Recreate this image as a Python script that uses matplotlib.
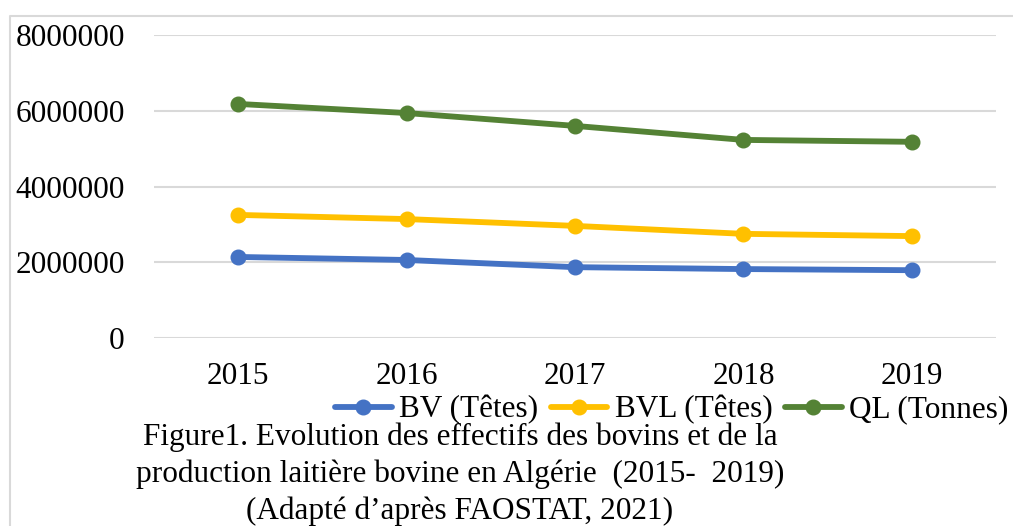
import matplotlib
matplotlib.use("Agg")
import matplotlib.pyplot as plt
from matplotlib.lines import Line2D

plt.rcParams['font.family'] = ['Liberation Serif', 'DejaVu Serif']

years = ['2015', '2016', '2017', '2018', '2019']
bv = [2140000, 2060000, 1870000, 1820000, 1790000]
bvl = [3250000, 3140000, 2960000, 2750000, 2690000]
ql = [6180000, 5940000, 5600000, 5230000, 5180000]
series_labels = ['BV (Têtes)', 'BVL (Têtes)', 'QL (Tonnes)']
y_ticks = [0, 2000000, 4000000, 6000000, 8000000]
caption = ["Figure1. Evolution des effectifs des bovins et de la",
           "production laitière bovine en Algérie  (2015-  2019)",
           "(Adapté d’après FAOSTAT, 2021)"]

colors = ['#4472C4', '#FFC000', '#548235']
fs = 22.5

fig = plt.figure(figsize=(10.13, 5.26), dpi=100)
ax = fig.add_axes([154 / 1013, 1 - 338 / 526, 842 / 1013, 303 / 526])

x = range(len(years))
for vals, col, lab in zip([bv, bvl, ql], colors, series_labels):
    ax.plot(x, vals, color=col, lw=4.2, marker='o', ms=10.5, label=lab,
            solid_capstyle='round')

ax.set_xlim(-0.5, len(years) - 0.5)
ax.set_ylim(0, 8000000)
ax.set_yticks(y_ticks)
ax.set_yticklabels([str(v) for v in y_ticks], fontsize=fs)
ax.set_xticks(list(x))
ax.set_xticklabels(years, fontsize=fs)
ax.tick_params(axis='y', length=0, pad=21)
ax.tick_params(axis='x', length=0, pad=17)
ax.grid(axis='y', color='#D9D9D9', lw=1.5)
ax.set_axisbelow(True)
for s in ax.spines.values():
    s.set_visible(False)

leg = fig.legend(loc='center', bbox_to_anchor=(672 / 1013, 1 - 410 / 526), ncol=3,
                 frameon=False, fontsize=fs, handlelength=1.8, handletextpad=0.25,
                 columnspacing=0.4, borderpad=0, borderaxespad=0)

for i, line in enumerate(caption):
    fig.text(460 / 1013, 1 - (437 + 37 * i) / 526, line, ha='center', va='center',
             fontsize=fs)

# light grey frame round the chart area
fig.add_artist(Line2D([10 / 1013, 10 / 1013, 1], [0, 1 - 16 / 526, 1 - 16 / 526],
                      transform=fig.transFigure, color='#D9D9D9', lw=1.5))

fig.savefig('out.png', dpi=100)
